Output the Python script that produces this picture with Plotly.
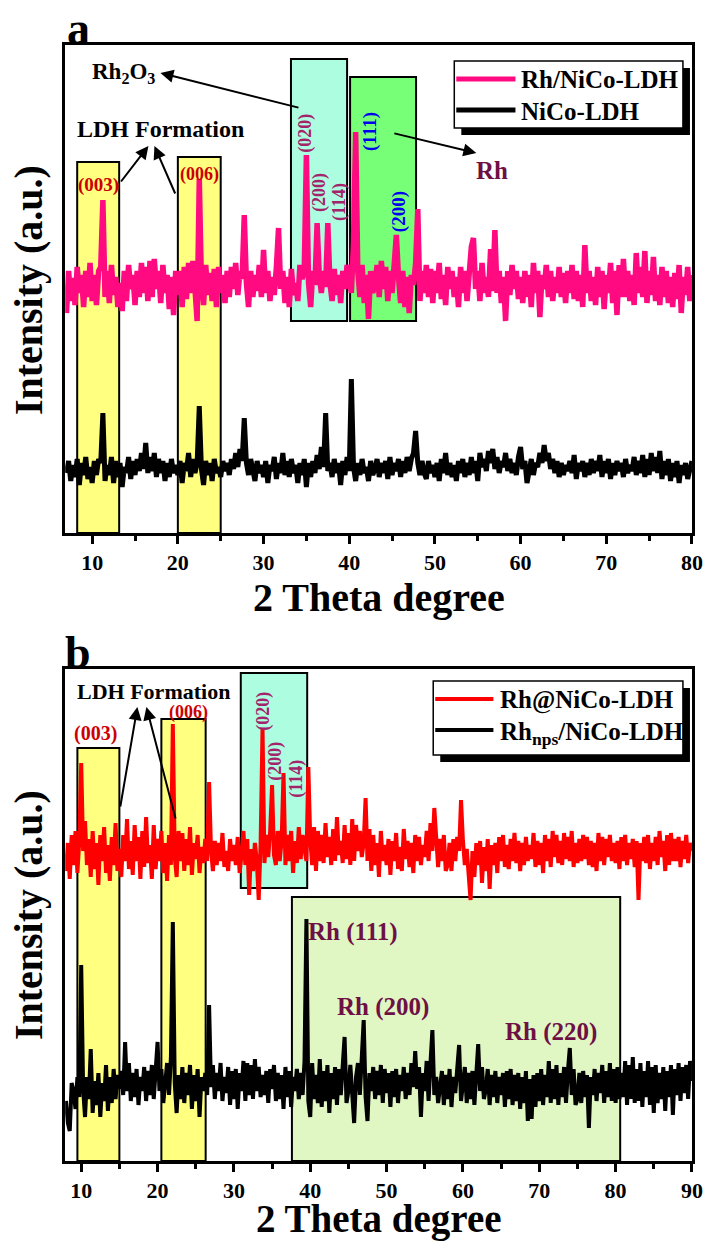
import plotly.graph_objects as go

# ---------------- data (intensity in arbitrary units) ----------------
# Panel a: scan grid 7.00 .. 80.00 deg, step 0.25
rh_nico_ldh_a = [
    220, 262, 232, 255, 228, 266, 240, 258,   # 7-8
    226, 262, 236, 270, 232, 258, 228, 262,   # 9-10
    266, 333, 236, 262, 230, 268, 238, 256,   # 11-12
    226, 250, 222, 262, 232, 268, 244, 258,   # 13-14
    228, 262, 236, 270, 240, 266, 232, 272,   # 15-16
    236, 274, 244, 262, 230, 268, 240, 258,   # 17-18
    224, 256, 218, 262, 238, 262, 226, 266,   # 19-20
    234, 270, 240, 272, 244, 212, 354, 250,   # 21-22
    228, 268, 238, 260, 232, 264, 226, 266,   # 23-24
    240, 258, 230, 262, 236, 266, 244, 270,   # 25-26
    238, 262, 254, 318, 250, 226, 262, 236,   # 27-28
    258, 242, 268, 236, 283, 240, 262, 232,   # 29-30
    256, 238, 266, 305, 244, 262, 230, 256,   # 31-32
    226, 264, 238, 250, 232, 268, 254, 262,   # 33-34
    378, 250, 226, 262, 248, 310, 258, 240,   # 35-36
    262, 246, 310, 250, 232, 264, 238, 258,   # 37-38
    230, 262, 244, 268, 256, 240, 290, 401,   # 39-40
    262, 236, 268, 230, 258, 214, 262, 240,   # 41-42
    250, 268, 236, 272, 244, 266, 232, 262,   # 43-44
    240, 270, 298, 256, 230, 262, 226, 256,   # 45-46
    220, 258, 248, 270, 324, 232, 262, 240,   # 47-48
    268, 236, 264, 230, 262, 240, 270, 234,   # 49-50
    258, 228, 266, 244, 262, 236, 256, 226,   # 51-52
    266, 240, 262, 232, 258, 286, 295, 244,   # 53-54
    262, 232, 270, 240, 256, 236, 284, 242,   # 55-56
    303, 240, 262, 230, 256, 212, 262, 238,   # 57-58
    268, 244, 262, 234, 256, 230, 262, 236,   # 59-60
    258, 226, 270, 240, 262, 216, 258, 244,   # 61-62
    268, 236, 262, 232, 256, 240, 266, 236,   # 63-64
    260, 230, 262, 240, 268, 234, 262, 232,   # 65-66
    258, 226, 288, 240, 262, 232, 256, 228,   # 67-68
    266, 236, 262, 224, 258, 240, 270, 230,   # 69-70
    262, 218, 268, 236, 274, 236, 262, 232,   # 71-72
    258, 228, 280, 240, 266, 236, 282, 230,   # 73-74
    262, 238, 276, 232, 258, 228, 266, 236,   # 75-76
    262, 230, 256, 226, 260, 234, 268, 220,   # 77-78
    256, 238, 266, 232, 258,                  # 79-80
]
nico_ldh_a = [
    60, 72, 52, 68, 56, 74, 48, 70,
    58, 76, 54, 66, 50, 72, 58, 74,
    70, 120, 52, 68, 58, 76, 50, 72,
    56, 70, 46, 66, 60, 76, 54, 72,
    58, 74, 62, 80, 64, 90, 60, 76,
    62, 80, 56, 74, 60, 72, 52, 70,
    56, 74, 60, 68, 58, 72, 50, 70,
    62, 80, 56, 74, 60, 70, 127, 64,
    48, 72, 58, 70, 52, 74, 60, 66,
    56, 72, 62, 70, 58, 74, 64, 80,
    66, 84, 72, 115, 70, 58, 74, 62,
    52, 72, 60, 68, 56, 72, 50, 68,
    62, 76, 54, 70, 60, 80, 58, 72,
    56, 74, 60, 68, 50, 70, 58, 74,
    46, 70, 56, 72, 60, 78, 64, 86,
    66, 120, 62, 70, 56, 74, 60, 70,
    48, 72, 58, 76, 62, 154, 66, 52,
    70, 58, 74, 60, 66, 52, 72, 58,
    64, 74, 56, 70, 60, 72, 54, 76,
    58, 70, 62, 74, 56, 72, 60, 76,
    62, 74, 80, 102, 70, 58, 72, 60,
    54, 72, 60, 68, 56, 70, 52, 74,
    60, 80, 58, 70, 56, 68, 52, 72,
    60, 74, 56, 70, 58, 76, 60, 72,
    52, 80, 66, 74, 62, 82, 70, 84,
    64, 76, 60, 72, 66, 80, 62, 74,
    60, 70, 58, 76, 86, 64, 72, 50,
    62, 74, 58, 70, 66, 80, 70, 88,
    72, 80, 64, 74, 60, 72, 56, 70,
    58, 68, 62, 72, 60, 78, 54, 70,
    62, 72, 56, 70, 58, 74, 60, 72,
    62, 78, 56, 72, 60, 74, 54, 70,
    58, 72, 62, 70, 56, 74, 60, 68,
    62, 76, 58, 72, 60, 78, 56, 74,
    58, 80, 62, 76, 60, 82, 54, 72,
    58, 74, 52, 70, 56, 72, 50, 68,
    58, 70, 54, 62, 72,
]
two_theta_a = [7.0 + 0.25 * i for i in range(len(rh_nico_ldh_a))]

# Panel b: scan grid 8.00 .. 90.00 deg, step 0.25
rh_at_nico_ldh_b = [
    290, 318, 282, 326, 296, 330, 288, 320,   # 8-9
    398, 310, 340, 296, 322, 284, 330, 292,   # 10-11
    318, 276, 326, 300, 334, 288, 316, 280,   # 12-13
    324, 296, 338, 290, 312, 284, 326, 300,   # 14-15
    342, 292, 320, 286, 336, 300, 324, 282,   # 16-17
    330, 294, 344, 298, 316, 282, 336, 292,   # 18-19
    322, 300, 330, 288, 318, 280, 326, 296,   # 20-21
    437, 304, 284, 330, 300, 328, 290, 322,   # 22-23
    296, 334, 286, 318, 302, 326, 288, 314,   # 24-25
    298, 322, 300, 379, 312, 290, 320, 296,   # 26-27
    318, 300, 328, 294, 310, 290, 322, 300,   # 28-29
    316, 296, 324, 288, 306, 330, 296, 322,   # 30-31
    266, 312, 290, 318, 300, 261, 318, 433,   # 32-33
    298, 326, 304, 330, 376, 306, 296, 330,   # 34-35
    300, 320, 388, 296, 326, 300, 330, 288,   # 36-37
    320, 298, 334, 302, 326, 312, 300, 394,   # 38-39
    322, 296, 334, 290, 330, 300, 326, 298,   # 40-41
    338, 304, 324, 296, 332, 300, 344, 306,   # 42-43
    320, 298, 336, 302, 328, 296, 342, 300,   # 44-45
    336, 310, 330, 304, 318, 363, 300, 332,   # 46-47
    290, 326, 296, 318, 284, 330, 300, 316,   # 48-49
    296, 322, 286, 320, 300, 328, 292, 314,   # 50-51
    290, 332, 302, 320, 294, 318, 288, 326,   # 52-53
    300, 324, 296, 316, 304, 330, 300, 338,   # 54-55
    310, 353, 316, 294, 322, 300, 326, 290,   # 56-57
    296, 318, 290, 322, 300, 324, 310, 361,   # 58-59
    320, 296, 312, 290, 261, 310, 284, 318,   # 60-61
    296, 320, 278, 314, 290, 322, 272, 316,   # 62-63
    296, 318, 288, 324, 300, 326, 294, 316,   # 64-65
    292, 322, 300, 328, 298, 320, 290, 318,   # 66-67
    296, 324, 300, 316, 302, 328, 294, 320,   # 68-69
    296, 318, 288, 326, 300, 322, 294, 330,   # 70-71
    304, 326, 298, 320, 296, 328, 302, 324,   # 72-73
    300, 330, 294, 318, 298, 322, 300, 326,   # 74-75
    302, 324, 296, 320, 294, 318, 290, 328,   # 76-77
    300, 324, 296, 322, 304, 326, 300, 318,   # 78-79
    298, 320, 292, 324, 300, 326, 296, 318,   # 80-81
    302, 322, 294, 320, 261, 318, 300, 324,   # 82-83
    298, 326, 292, 318, 300, 324, 296, 330,   # 84-85
    304, 320, 290, 326, 296, 328, 300, 322,   # 86-87
    300, 324, 294, 320, 302, 326, 298, 318,   # 88-89
    310,                                      # 90
]
rh_nps_nico_ldh_b = [
    60, 38, 30, 78, 70, 52, 84, 64,
    196, 72, 44, 84, 62, 112, 48, 80,
    56, 88, 44, 78, 60, 96, 50, 84,
    58, 92, 62, 86, 72, 90, 66, 119,
    70, 98, 60, 88, 64, 92, 56, 84,
    70, 94, 60, 90, 66, 96, 62, 100,
    119, 70, 92, 58, 74, 98, 66, 104,
    239, 78, 48, 86, 62, 94, 58, 88,
    66, 96, 52, 86, 60, 92, 44, 84,
    70, 88, 66, 156, 74, 96, 62, 88,
    70, 98, 60, 84, 68, 94, 56, 90,
    62, 92, 52, 88, 70, 100, 60, 98,
    66, 96, 62, 102, 70, 94, 64, 86,
    66, 90, 58, 92, 72, 96, 60, 88,
    62, 86, 52, 94, 64, 90, 54, 84,
    70, 92, 62, 88, 66, 100, 242, 60,
    44, 98, 62, 86, 58, 102, 54, 90,
    60, 96, 48, 88, 62, 94, 56, 92,
    66, 92, 124, 58, 70, 96, 60, 38,
    84, 98, 66, 102, 141, 64, 40, 88,
    70, 94, 62, 90, 66, 96, 58, 92,
    68, 88, 54, 90, 64, 92, 58, 86,
    70, 94, 62, 88, 66, 98, 74, 110,
    72, 94, 44, 88, 70, 100, 60, 98,
    131, 66, 84, 58, 72, 90, 56, 86,
    62, 92, 54, 84, 68, 96, 116, 60,
    74, 94, 58, 88, 62, 90, 56, 86,
    117, 70, 94, 62, 72, 92, 56, 86,
    64, 90, 58, 84, 66, 88, 54, 90,
    62, 92, 56, 86, 60, 88, 52, 84,
    58, 90, 40, 82, 42, 86, 54, 88,
    60, 92, 56, 86, 64, 100, 58, 92,
    62, 96, 56, 88, 64, 94, 58, 90,
    113, 66, 92, 56, 62, 88, 58, 90,
    64, 86, 33, 84, 66, 92, 60, 88,
    68, 96, 58, 90, 64, 98, 60, 92,
    58, 94, 62, 88, 64, 100, 56, 96,
    62, 104, 58, 92, 60, 98, 54, 90,
    64, 100, 56, 94, 48, 96, 58, 88,
    62, 94, 50, 90, 64, 96, 46, 92,
    66, 98, 60, 94, 68, 96, 62, 100,
    80,
]
two_theta_b = [8.0 + 0.25 * i for i in range(len(rh_at_nico_ldh_b))]

series_names_a = ["Rh/NiCo-LDH", "NiCo-LDH"]
series_names_b = ["Rh@NiCo-LDH", "Rh<sub>nps</sub>/NiCo-LDH"]
tick_vals_a = [10, 20, 30, 40, 50, 60, 70, 80]
tick_vals_b = [10, 20, 30, 40, 50, 60, 70, 80, 90]

# highlight boxes: (x0, x1, y0, y1, fill)
boxes_a = [
    (8.25, 13.15, 0, 371, "#ffff80"),
    (20.0, 25.0, 0, 376, "#ffff80"),
    (33.2, 39.75, 212, 474, "#adfde0"),
    (40.1, 47.8, 212, 456, "#77ff77"),
]
boxes_b = [
    (9.5, 15.0, 0, 413, "#ffff80"),
    (20.5, 26.3, 0, 442, "#ffff80"),
    (30.9, 39.6, 273, 488, "#adfde0"),
    (37.6, 80.6, 0, 264, "#e0f7c4"),
]

# ---------------- figure ----------------
REF_W, H = 705, 1243          # reference picture size (positions below are in its pixels)
S = 0.982                     # horizontal factor observed between page and photographed picture
W = round(REF_W / S)          # page width so that the photographed picture spans the reference
FONT = "Liberation Serif, Times New Roman, serif"


def px(x):
    return x / REF_W


def py(y):
    return 1 - y / H


PINK, RED = "#ff0a80", "#ff0000"
fig = go.Figure()
fig.add_trace(go.Scatter(x=two_theta_a, y=rh_nico_ldh_a, mode="lines", name=series_names_a[0],
                         line=dict(color=PINK, width=5.5), xaxis="x", yaxis="y"))
fig.add_trace(go.Scatter(x=two_theta_a, y=nico_ldh_a, mode="lines", name=series_names_a[1],
                         line=dict(color="black", width=5), xaxis="x", yaxis="y"))
fig.add_trace(go.Scatter(x=two_theta_b, y=rh_at_nico_ldh_b, mode="lines", name=series_names_b[0],
                         line=dict(color=RED, width=4), xaxis="x2", yaxis="y2"))
fig.add_trace(go.Scatter(x=two_theta_b, y=rh_nps_nico_ldh_b, mode="lines", name=series_names_b[1],
                         line=dict(color="black", width=4), xaxis="x2", yaxis="y2"))

xdom = [px(65), px(690)]
common_x = dict(domain=xdom, showline=True, linewidth=3, linecolor="black", mirror=True,
                showgrid=False, zeroline=False, ticks="outside", ticklen=8, tickwidth=3,
                tickcolor="black",
                tickfont=dict(family=FONT, size=22, color="black", weight="bold"),
                minor=dict(ticks="outside", ticklen=5, tickwidth=3, tickcolor="black", dtick=5))
common_y = dict(showline=True, linewidth=3, linecolor="black", mirror=True, showgrid=False,
                zeroline=False, showticklabels=False, ticks="")

fig.update_layout(
    width=W, height=H, autosize=False, showlegend=False,
    margin=dict(l=0, r=0, t=0, b=0),
    paper_bgcolor="white", plot_bgcolor="white",
    xaxis=dict(common_x, range=[6.85, 80], tickvals=tick_vals_a, anchor="y"),
    yaxis=dict(common_y, range=[0, 488], domain=[py(533), py(45)], anchor="x"),
    xaxis2=dict(common_x, range=[7.9, 90], tickvals=tick_vals_b, anchor="y2"),
    yaxis2=dict(common_y, range=[0, 492], domain=[py(1161), py(669)], anchor="x2"),
)

shapes = []
for (x0, x1, y0, y1, c) in boxes_a:
    shapes.append(dict(type="rect", xref="x", yref="y", x0=x0, x1=x1, y0=y0, y1=y1,
                       fillcolor=c, line=dict(color="black", width=2), layer="below"))
for (x0, x1, y0, y1, c) in boxes_b:
    shapes.append(dict(type="rect", xref="x2", yref="y2", x0=x0, x1=x1, y0=y0, y1=y1,
                       fillcolor=c, line=dict(color="black", width=2), layer="below"))


def legend_box(x0, y0, x1, y1, off):
    shapes.append(dict(type="rect", xref="paper", yref="paper", x0=px(x0 + off), x1=px(x1 + off),
                       y0=py(y1 + off), y1=py(y0 + off), fillcolor="black",
                       line=dict(width=0), layer="above"))
    shapes.append(dict(type="rect", xref="paper", yref="paper", x0=px(x0), x1=px(x1),
                       y0=py(y1), y1=py(y0), fillcolor="white",
                       line=dict(color="black", width=1.5), layer="above"))


def legend_line(x0, x1, y, color, w):
    shapes.append(dict(type="line", xref="paper", yref="paper", x0=px(x0), x1=px(x1),
                       y0=py(y), y1=py(y), line=dict(color=color, width=w), layer="above"))


legend_box(453, 61, 681, 128, 7)
legend_line(455, 514, 79, PINK, 5)
legend_line(455, 514, 110, "black", 5)
legend_box(432, 681, 681, 755, 7)
legend_line(434, 492, 699, RED, 4)
legend_line(434, 492, 730, "black", 4)
fig.update_layout(shapes=shapes)

ann = []


def text(x, y, s, size, color="black", angle=0, xanchor="center", yanchor="middle"):
    ann.append(dict(x=px(x), y=py(y), xref="paper", yref="paper", text=s, showarrow=False,
                    xanchor=xanchor, yanchor=yanchor, textangle=angle,
                    font=dict(family=FONT, size=size, color=color, weight="bold")))


def arrow(hx, hy, tx, ty):
    ann.append(dict(x=px(hx), y=py(hy), xref="paper", yref="paper", text="", showarrow=True,
                    ax=(tx - hx) / S, ay=ty - hy, arrowhead=2, arrowsize=1.3, arrowwidth=2,
                    arrowcolor="black", standoff=0, startstandoff=0))


DRED, PURP, BLUE, MAROON = "#cc0000", "#a3246b", "#0000ee", "#6e1045"

# panel a
text(78, 28, "a", 46)
text(90, 73, "Rh<sub>2</sub>O<sub>3</sub>", 23, xanchor="left")
text(160, 129, "LDH Formation", 24)
text(98, 185, "(003)", 19, DRED)
text(199, 174, "(006)", 18, DRED)
text(305, 133, "(020)", 18, PURP, -90)
text(318, 192, "(200)", 18, PURP, -90)
text(338, 202, "(114)", 18, PURP, -90)
text(369, 132, "(111)", 19, BLUE, -90)
text(398, 212, "(200)", 19, BLUE, -90)
text(491, 170, "Rh", 25, MAROON)
arrow(160, 73, 297, 108)
arrow(148, 146, 120, 183)
arrow(154, 146, 175, 195)
arrow(475, 153, 393, 133)
text(518, 80, series_names_a[0], 25, xanchor="left")
text(518, 111, series_names_a[1], 25, xanchor="left")
text(28, 290, "Intensity (a.u.)", 40, angle=-90)
text(378, 597, "2 Theta degree", 40)

# panel b
text(78, 652, "b", 46)
text(153, 691, "LDH Formation", 22)
text(95, 733, "(003)", 20, DRED)
text(188, 712, "(006)", 18, DRED)
text(262, 711, "(020)", 18, PURP, -90)
text(275, 761, "(200)", 18, PURP, -90)
text(295, 779, "(114)", 18, PURP, -90)
arrow(137, 707, 120, 808)
arrow(146, 707, 175, 820)
text(352, 932, "Rh (111)", 25, MAROON)
text(382, 1007, "Rh (200)", 25, MAROON)
text(549, 1032, "Rh (220)", 25, MAROON)
text(497, 700, series_names_b[0], 25, xanchor="left")
text(497, 733, series_names_b[1], 25, xanchor="left")
text(28, 915, "Intensity (a.u.)", 40, angle=-90)
text(378, 1243, "2 Theta degree", 39, yanchor="bottom")

fig.update_layout(annotations=ann)
fig.write_html("out.html", config={"responsive": False})
